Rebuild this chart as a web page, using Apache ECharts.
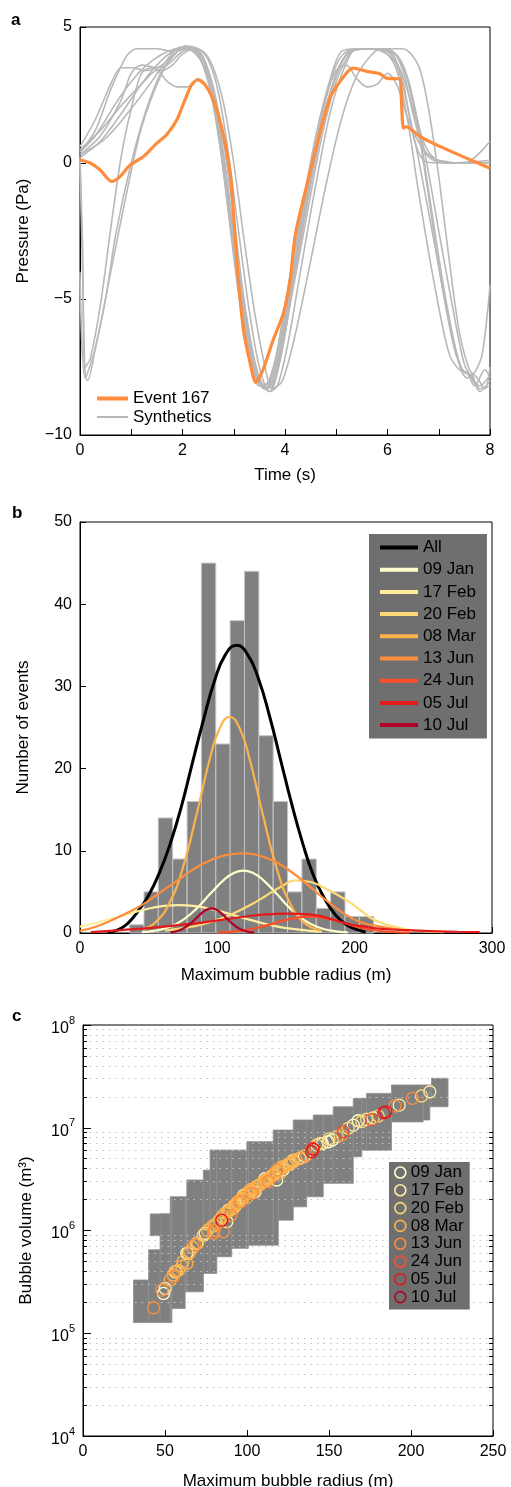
<!DOCTYPE html>
<html>
<head>
<meta charset="utf-8">
<script src="https://cdn.jsdelivr.net/npm/echarts/dist/echarts.min.js"></script>
<style>
html, body { margin: 0; padding: 0; background: #fff; }
#chart { width: 511px; height: 1487px; }
</style>
</head>
<body>
<div id="chart"></div>
<script>
(function() {
  var FONT = '"Liberation Sans", Arial, Helvetica, sans-serif';

  // ---- panel a: pressure waveforms (time s, pressure Pa) ----
  var event167 = [[0,0.12],[0.2,0],[0.39,-0.25],[0.62,-0.68],[0.78,-0.5],[0.98,-0.07],[1.24,0.24],[1.5,0.73],
    [1.69,1.04],[1.89,1.59],[2.05,2.33],[2.18,2.88],[2.3,3.06],[2.44,2.88],[2.6,2.33],[2.76,1.34],[2.93,-0.37],
    [3.02,-2.5],[3.09,-4.3],[3.19,-6.14],[3.32,-7.36],[3.43,-8.07],[3.57,-7.61],[3.77,-6.5],[3.97,-5.52],[4.1,-4.3],
    [4.2,-2.65],[4.42,-0.86],[4.68,1.1],[4.89,2.45],[5.2,3.31],[5.33,3.49],[5.59,3.37],[5.85,3.28],[5.98,3.12],
    [6.24,3.09],[6.27,2.33],[6.31,1.28],[6.36,1.34],[6.63,0.98],[7.02,0.61],[7.54,0.18],[8.0,-0.19]];

  var synthetics = [
    [[0,0.2],[0.05,-4.0],[0.1,-7.8],[0.15,-8.0],[0.3,-6.8],[0.5,-5.0],[0.7,-2.6],[1.0,0.0],[1.3,2.0],[1.6,3.4],[1.9,4.1],[2.05,4.3],[2.3,4.0],[2.5,3.0],[2.7,1.1],[2.9,-1.9],[3.1,-4.9],[3.3,-7.2],[3.5,-8.1],[3.7,-8.4],[3.9,-7.3],[4.1,-5.2],[4.4,-2.2],[4.7,0.8],[5.0,3.0],[5.3,4.1],[5.5,4.2],[5.9,4.2],[6.2,3.9],[6.4,3.0],[6.6,1.2],[6.8,-1.2],[7.0,-3.8],[7.3,-6.8],[7.5,-7.7],[7.65,-7.8],[7.8,-8.4],[8.0,-8.0]],
    [[0,0.1],[0.05,-3.0],[0.1,-7.5],[0.2,-7.2],[0.4,-5.2],[0.6,-2.4],[0.8,0.2],[1.0,2.0],[1.2,3.3],[1.4,3.5],[1.6,3.4],[1.8,3.6],[2.0,4.0],[2.25,4.2],[2.45,3.7],[2.65,2.3],[2.85,-0.4],[3.05,-3.5],[3.25,-6.3],[3.45,-7.9],[3.6,-8.3],[3.8,-7.8],[4.0,-5.9],[4.3,-2.8],[4.6,0.3],[4.9,2.7],[5.2,4.0],[5.4,4.2],[5.8,4.2],[6.1,4.1],[6.3,3.4],[6.5,1.8],[6.7,0.5],[6.9,0.1],[7.2,0.0],[8.0,0.1]],
    [[0,-4.0],[0.1,-7.9],[0.3,-6.8],[0.6,-4.0],[0.9,-1.2],[1.2,1.3],[1.6,3.3],[1.9,4.1],[2.1,4.3],[2.4,4.1],[2.6,3.5],[2.8,2.2],[3.0,0.0],[3.2,-2.8],[3.4,-5.4],[3.6,-7.4],[3.75,-8.3],[3.95,-8.0],[4.2,-6.3],[4.5,-3.6],[4.8,-0.8],[5.1,1.6],[5.4,3.2],[5.7,4.0],[5.9,4.2],[6.3,4.2],[6.6,3.6],[6.8,2.0],[7.0,-0.5],[7.2,-3.5],[7.4,-6.2],[7.6,-7.6],[7.75,-7.9],[7.9,-8.3],[8.0,-7.5]],
    [[0,0.4],[0.3,1.2],[0.6,2.7],[0.9,3.9],[1.1,4.2],[1.5,4.2],[1.8,4.1],[2.0,4.2],[2.3,4.1],[2.5,3.2],[2.7,1.2],[2.9,-1.6],[3.1,-4.6],[3.3,-7.0],[3.45,-8.0],[3.6,-8.2],[3.8,-7.3],[4.0,-5.2],[4.3,-2.0],[4.6,1.0],[4.9,3.2],[5.1,4.1],[5.4,4.2],[5.8,4.2],[6.1,4.0],[6.3,3.0],[6.5,1.0],[6.7,0.1],[7.0,0.0],[8.0,0.0]],
    [[0,0.3],[0.4,1.0],[0.8,2.3],[1.0,3.3],[1.2,3.6],[1.5,3.5],[1.7,3.6],[2.0,4.1],[2.2,4.2],[2.4,3.9],[2.6,2.6],[2.8,0.2],[3.0,-2.8],[3.2,-5.6],[3.4,-7.6],[3.55,-8.2],[3.7,-8.0],[3.9,-6.6],[4.1,-4.3],[4.4,-1.2],[4.7,1.6],[5.0,3.6],[5.2,4.1],[5.5,4.2],[5.9,4.1],[6.2,3.6],[6.4,2.6],[6.7,0.6],[7.0,-2.5],[7.3,-5.6],[7.5,-7.4],[7.65,-7.9],[7.8,-8.2],[8.0,-7.8]],
    [[0,0.3],[0.5,0.9],[1.0,2.0],[1.4,3.0],[1.7,3.8],[1.95,4.25],[2.2,4.1],[2.4,3.6],[2.6,2.4],[2.8,0.3],[3.0,-2.6],[3.2,-5.4],[3.4,-7.5],[3.6,-8.3],[3.75,-8.2],[3.95,-6.8],[4.2,-4.0],[4.5,-0.8],[4.8,2.0],[5.1,3.7],[5.3,4.1],[5.7,4.2],[6.0,4.0],[6.2,3.3],[6.4,1.5],[6.6,-1.0],[6.9,-4.3],[7.2,-7.0],[7.4,-7.6],[7.55,-7.7],[7.7,-8.2],[7.9,-7.6],[8.0,-7.9]],
    [[0,0.5],[0.4,1.2],[0.8,2.1],[1.2,2.9],[1.5,3.4],[1.7,3.0],[1.9,2.8],[2.1,2.8],[2.3,3.1],[2.45,2.9],[2.6,2.2],[2.8,0.2],[3.0,-2.6],[3.2,-5.2],[3.4,-7.3],[3.6,-8.3],[3.75,-8.1],[3.95,-6.5],[4.2,-3.6],[4.5,-0.4],[4.8,2.4],[5.0,3.4],[5.2,3.6],[5.4,3.1],[5.6,2.8],[5.8,2.9],[6.0,3.3],[6.2,2.8],[6.4,1.6],[6.6,0.8],[6.8,0.3],[7.0,0.1],[7.5,0.0],[8.0,0.8]],
    [[0,0.6],[0.3,1.6],[0.6,2.9],[0.8,3.5],[1.0,3.5],[1.3,3.4],[1.6,3.6],[1.9,4.1],[2.1,4.2],[2.3,4.0],[2.5,3.0],[2.7,1.0],[2.9,-1.8],[3.1,-4.8],[3.3,-7.2],[3.5,-8.2],[3.7,-8.1],[3.9,-6.8],[4.1,-4.6],[4.4,-1.5],[4.7,1.3],[5.0,3.3],[5.2,4.0],[5.4,4.2],[5.7,4.2],[6.0,4.1],[6.2,3.5],[6.4,2.0],[6.6,0.2],[6.9,-2.8],[7.2,-5.8],[7.45,-7.6],[7.6,-7.8],[7.8,-8.3],[8.0,-8.2]],
    [[0,0.2],[0.4,0.8],[0.8,1.8],[1.2,2.9],[1.5,3.6],[1.8,4.1],[2.0,4.25],[2.3,4.2],[2.5,3.8],[2.7,2.6],[2.9,0.3],[3.1,-2.6],[3.3,-5.4],[3.5,-7.5],[3.7,-8.4],[3.85,-8.2],[4.05,-6.7],[4.3,-4.0],[4.6,-0.8],[4.9,2.0],[5.2,3.7],[5.4,4.2],[5.8,4.2],[6.1,4.1],[6.3,3.6],[6.5,2.2],[6.7,0.8],[6.9,0.2],[7.2,0.0],[8.0,0.0]],
    [[0,0.4],[0.3,1.0],[0.7,2.2],[1.0,3.0],[1.3,3.6],[1.6,4.0],[1.9,4.2],[2.2,4.2],[2.4,3.8],[2.6,2.8],[2.8,0.8],[3.0,-2.0],[3.2,-5.0],[3.4,-7.2],[3.55,-8.1],[3.7,-8.4],[3.9,-7.2],[4.1,-5.0],[4.4,-1.8],[4.7,1.1],[5.0,3.2],[5.25,4.1],[5.5,4.2],[5.9,4.2],[6.2,3.9],[6.4,3.1],[6.6,1.4],[6.8,-1.0],[7.1,-4.6],[7.4,-7.4],[7.55,-7.9],[7.7,-7.7],[7.85,-7.0],[8.0,-4.5]]
  ];

  // ---- panel b: histogram of max bubble radius + gaussian fits ----
  var binWidth = 10.45;
  var binStart = [36.2, 46.6, 57.0, 67.5, 78.0, 88.4, 98.9, 109.3, 119.8, 130.2, 140.7, 151.1, 161.6, 172.0, 182.5, 192.9, 203.4];
  var binCount = [1, 5, 14, 9, 16, 45, 23, 38, 44, 24, 16, 5, 9, 3, 5, 2, 2];

  var fitAll = [[20,0.1],[28,0.4],[35,1.2],[42,2.6],[50,4.6],[58,7.4],[66,11.0],[74,15.5],[82,20.8],[90,26.0],[98,30.7],
    [106,33.9],[114,35.0],[122,33.9],[130,30.9],[138,26.4],[146,21.1],[154,15.8],[162,11.0],[170,7.0],[178,4.2],[186,2.2],
    [194,1.0],[202,0.4],[208,0.1]];
  var fitJan09 = [[45,0.1],[55,0.29],[65,0.74],[75,1.6],[85,3.0],[95,4.8],[105,6.5],[112,7.3],[119,7.6],[126,7.3],[133,6.5],
    [143,4.8],[153,3.0],[163,1.6],[173,0.74],[183,0.29],[195,0.07]];
  var fitFeb17 = [[0,0.78],[12,1.23],[24,1.77],[36,2.36],[48,2.89],[60,3.26],[72,3.4],[84,3.26],[96,2.89],[108,2.36],
    [120,1.77],[132,1.23],[144,0.78],[156,0.47],[168,0.25],[176,0.16]];
  var fitFeb20 = [[62,0.3],[75,0.6],[88,1.0],[100,1.6],[112,2.4],[124,3.4],[136,4.6],[146,5.6],[157,6.4],[168,6.2],
    [180,5.3],[194,4.0],[204,2.8],[214,1.6],[228,0.8],[243,0.33],[265,0.1]];
  var fitMar08 = [[46,0.44],[55,1.3],[65,3.6],[75,8.0],[85,14.5],[95,21.5],[102,25.0],[109,26.3],[116,25.0],[123,21.5],
    [133,14.5],[143,8.0],[153,3.6],[163,1.3],[175,0.29]];
  var fitJun13 = [[0,0.25],[12,0.8],[23,1.55],[35,2.5],[47,3.6],[59,5.0],[71,6.4],[83,7.8],[95,8.85],[107,9.5],[119,9.7],
    [131,9.4],[143,8.6],[155,7.3],[167,5.7],[179,4.0],[191,2.5],[203,1.4],[215,0.9],[226,0.57],[240,0.3]];
  var fitJun24 = [[100,0.06],[115,0.23],[130,0.67],[145,1.36],[155,1.78],[167,2.0],[180,1.75],[192,1.21],[205,0.63],
    [220,0.21],[240,0.03]];
  var fitJul05 = [[8,0.1],[30,0.35],[50,0.6],[71,0.95],[90,1.3],[108,1.7],[125,2.1],[140,2.3],[150,2.36],[160,2.32],
    [170,2.2],[182,1.75],[194,1.15],[206,0.8],[218,0.53],[236,0.35],[255,0.22],[275,0.15],[291,0.1]];
  var fitJul10 = [[66,0.08],[72,0.3],[78,0.83],[84,1.7],[90,2.6],[95.6,3.0],[101,2.66],[107,1.75],[113,0.86],[119,0.31],[127,0.05]];

  // ---- panel c: bubble volume vs radius ----
  var volJan09 = [[88.7,1.58e6],[104.9,2.38e6],[116.1,3.46e6],[118.1,3.10e6],[167.8,1.17e7],[164.8,1.06e7],[149.6,7.31e6],
    [63.3,6.0e5],[49.1,2.44e5],[87.7,1.22e6],[135,5.3e6],[126,4.4e6],[98,2.2e6],[111,3.2e6],[122,3.9e6],[146,7.0e6],
    [152,7.6e6],[93,1.75e6]];
  var volFeb17 = [[211.5,2.24e7],[192.8,1.66e7],[74.5,9.4e5],[69.4,7.5e5],[56.2,3.96e5],[50.1,2.73e5],[176.9,1.25e7],[110,3.0e6]];
  var volFeb20 = [[206.4,2.04e7],[172.9,1.21e7],[161.7,9.87e6],[144.5,7.05e6],[142.5,6.79e6],[73.4,9.0e5],[64.3,5.98e5],
    [132.3,5.03e6],[155,8.2e6],[170,1.15e7],[180,1.3e7],[150,7.8e6],[128,4.8e6]];
  var volMar08 = [[121.2,4.17e6],[124.2,4.33e6],[128.2,4.67e6],[114,3.29e6],[110,2.98e6],[106,2.67e6],[99.9,2.3e6],
    [96.8,2.05e6],[93.8,1.84e6],[91.7,1.64e6],[86.6,1.47e6],[81.6,1.17e6],[78.5,1.09e6],[102,2.5e6],[108,2.8e6],
    [112,3.1e6],[116,3.5e6],[119,3.8e6],[95,1.95e6],[98,2.15e6],[103,2.42e6],[89,1.55e6],[84,1.3e6],[120,3.6e6],
    [126,4.5e6],[100,2.1e6],[92,1.75e6],[60.3,4.5e5],[58.2,4.1e5],[63.3,4.78e5],[53.2,3.29e5],
    [76,1.0e6],[80,1.12e6],[83,1.25e6],[85,1.38e6],[88,1.5e6],[90,1.6e6],[94,1.86e6],[97,2.0e6],[101,2.35e6],
    [104,2.55e6],[105,2.5e6],[107,2.75e6],[111,3.05e6],[113,3.2e6],[115,3.4e6],[117,3.6e6],[122,4.1e6],[125,4.4e6],
    [127,4.55e6],[130,4.9e6],[133,5.1e6],[70,7.6e5],[67,6.8e5],[65,6.2e5],[61,5.0e5],[57,4.0e5],[55,3.7e5]];
  var volJun13 = [[200.9,1.93e7],[190.2,1.63e7],[157.7,8.49e6],[136.4,5.42e6],[85.6,9.7e5],[79.5,9.4e5],[55.2,3.54e5],
    [48.1,2.63e5],[43,1.77e5],[118.1,3.87e6],[80,1.0e6],[90,1.4e6],[103,2.3e6],[113,3.0e6],[96,1.9e6],[68,7.2e5]];
  var volJun24 = [[158.7,9.15e6],[176,1.2e7],[140,6.3e6]];
  var volJul05 = [[184.7,1.43e7],[183.4,1.4e7],[140.4,6.17e6],[139.4,5.84e6],[84.6,1.26e6]];
  var volJul10 = [[95,1.95e6]];

  // uncertainty boxes: [r min, r max, V min, V max]
  var volBoxes = [[30.8,40,1.27e5,3.3e5],[40,47,1.27e5,6.5e5],[41,53.2,8.9e5,1.45e6],[47,53.2,1.27e5,1.45e6],
    [53.2,54.2,1.27e5,2.13e6],[54.2,62.3,1.74e5,2.13e6],[62.3,63.3,2.53e5,2.13e6],[63.3,73.4,2.53e5,3.1e6],
    [73.4,77.5,3.82e5,3.87e6],[77.5,81.6,3.82e5,6.07e6],[81.6,90.7,5.55e5,6.07e6],[90.7,99.9,6.7e5,6.07e6],
    [99.9,100.8,6.7e5,7.31e6],[100.8,116,7.2e5,7.31e6],[116,119.1,7.2e5,9.5e6],[119.1,128.2,1.26e6,9.5e6],
    [128.2,136.4,1.7e6,1.19e7],[136.4,140.4,2.13e6,1.19e7],[140.4,146.5,2.13e6,1.33e7],[146.5,152.6,2.88e6,1.33e7],
    [152.6,164.8,2.88e6,1.6e7],[164.8,170,5.22e6,1.93e7],[170,172.9,6.03e6,1.93e7],[172.9,188.1,6.03e6,2.16e7],
    [188.1,207.4,1.14e7,2.61e7],[207.4,211.5,1.19e7,2.61e7],[211.5,212.5,1.6e7,2.61e7],[212.5,222.6,1.6e7,3.03e7]];

  var dates = ['09 Jan', '17 Feb', '20 Feb', '08 Mar', '13 Jun', '24 Jun', '05 Jul', '10 Jul'];
  var dateColors = ['#ffffcc', '#ffeda0', '#fed976', '#feb24c', '#fd8d3c', '#fc4e2a', '#e31a1c', '#b10026'];
  var fits = [fitJan09, fitFeb17, fitFeb20, fitMar08, fitJun13, fitJun24, fitJul05, fitJul10];
  var vols = [volJan09, volFeb17, volFeb20, volMar08, volJun13, volJun24, volJul05, volJul10];

  var labelStyle = { color: '#000', fontSize: 16, fontFamily: FONT, showMinLabel: true, showMaxLabel: true };
  var nameStyle = { color: '#000', fontSize: 17, fontFamily: FONT };
  var axisLine = { show: true, onZero: false, lineStyle: { color: '#000', width: 1 } };
  var tickIn = { show: true, inside: true, length: 6, lineStyle: { color: '#000', width: 1 } };
  var legendText = { color: '#000', fontSize: 17, fontFamily: FONT, lineHeight: 17 };
  function minus(v) { return String(v).replace('-', '\u2212'); }

  var chart = echarts.init(document.getElementById('chart'), null, { renderer: 'canvas' });

  var series = [];
  // panel a
  synthetics.forEach(function(s) {
    series.push({ type: 'line', name: 'Synthetics', xAxisIndex: 0, yAxisIndex: 0, data: s, color: '#b8b8b8',
      symbol: 'none', smooth: 0.3, lineStyle: { color: '#b8b8b8', width: 1.6 }, z: 2 });
  });
  series.push({ type: 'line', name: 'Event 167', xAxisIndex: 0, yAxisIndex: 0, data: event167, color: '#fd8d3c',
    symbol: 'none', smooth: 0.25, lineStyle: { color: '#fd8d3c', width: 3.2 }, z: 3 });

  // panel b
  series.push({
    type: 'custom', name: 'hist', xAxisIndex: 1, yAxisIndex: 1, z: 1,
    data: binStart.map(function(b, i) { return [b, b + binWidth, binCount[i]]; }),
    encode: { x: [0, 1], y: 2 },
    renderItem: function(params, api) {
      var p0 = api.coord([api.value(0), api.value(2)]);
      var p1 = api.coord([api.value(1), 0]);
      return { type: 'rect', shape: { x: p0[0], y: p0[1], width: p1[0] - p0[0], height: p1[1] - p0[1] },
        style: { fill: '#808080', stroke: '#c4c4c4', lineWidth: 1 } };
    }
  });
  series.push({ type: 'line', name: 'All', xAxisIndex: 1, yAxisIndex: 1, data: fitAll, color: '#000',
    symbol: 'none', smooth: true, lineStyle: { color: '#000', width: 3 }, z: 3 });
  dates.forEach(function(d, i) {
    series.push({ type: 'line', name: d, xAxisIndex: 1, yAxisIndex: 1, data: fits[i], color: dateColors[i],
      symbol: 'none', smooth: true, lineStyle: { color: dateColors[i], width: 2.2 }, z: 4 });
  });

  // panel c
  var gridLines = [];
  var minorTicks = [];
  for (var k = 4; k < 8; k++) {
    for (var m = 2; m < 10; m++) {
      var v = m * Math.pow(10, k);
      gridLines.push({ yAxis: v });
      minorTicks.push([{ coord: [0, v] }, { coord: [2.4, v] }]);
      minorTicks.push([{ coord: [247.6, v] }, { coord: [250, v] }]);
    }
  }
  series.push({
    type: 'custom', name: 'boxes', xAxisIndex: 2, yAxisIndex: 2, z: 1,
    data: volBoxes, encode: { x: [0, 1], y: [2, 3] },
    renderItem: function(params, api) {
      var p0 = api.coord([api.value(0), api.value(3)]);
      var p1 = api.coord([api.value(1), api.value(2)]);
      return { type: 'rect', shape: { x: p0[0], y: p0[1], width: p1[0] - p0[0], height: p1[1] - p0[1] },
        style: { fill: '#808080', stroke: '#8e8e8e', lineWidth: 0.8 } };
    },
    markLine: { silent: true, symbol: ['none', 'none'], animation: false, z: 2, label: { show: false },
      lineStyle: { color: '#c4c4c4', type: [1.5, 5], width: 1 }, data: gridLines }
  });
  series.push({
    type: 'line', name: 'ticks', xAxisIndex: 2, yAxisIndex: 2, data: [], symbol: 'none',
    markLine: { silent: true, symbol: ['none', 'none'], animation: false, label: { show: false },
      lineStyle: { color: '#000', type: 'solid', width: 1 }, data: minorTicks }
  });
  dates.forEach(function(d, i) {
    series.push({ type: 'scatter', name: d + ' (c)', xAxisIndex: 2, yAxisIndex: 2, data: vols[i], z: i === 7 ? 3 : 4,
      symbol: 'circle', symbolSize: 12, color: dateColors[i],
      itemStyle: { color: 'rgba(0,0,0,0)', borderColor: dateColors[i], borderWidth: 1.3, opacity: 1 } });
  });

  chart.setOption({
    animation: false,
    textStyle: { fontFamily: FONT },
    graphic: [
      { type: 'text', left: 11, top: 12, style: { text: 'a', font: 'bold 17px ' + FONT, fill: '#000' } },
      { type: 'text', left: 12, top: 505, style: { text: 'b', font: 'bold 17px ' + FONT, fill: '#000' } },
      { type: 'text', left: 12, top: 1008, style: { text: 'c', font: 'bold 17px ' + FONT, fill: '#000' } }
    ],
    grid: [
      { left: 80, top: 27, width: 410, height: 408, show: true, borderColor: '#000', borderWidth: 1, backgroundColor: 'transparent', outerBoundsMode: 'none' },
      { left: 80, top: 522, width: 412, height: 411, show: true, borderColor: '#000', borderWidth: 1, backgroundColor: 'transparent', outerBoundsMode: 'none' },
      { left: 83, top: 1025, width: 410, height: 411, show: true, borderColor: '#000', borderWidth: 1, backgroundColor: 'transparent', outerBoundsMode: 'none' }
    ],
    xAxis: [
      { type: 'value', gridIndex: 0, min: 0, max: 8, interval: 1, name: 'Time (s)', nameLocation: 'middle', nameGap: 32,
        nameTextStyle: nameStyle, axisLine: axisLine, axisTick: tickIn, splitLine: { show: false },
        axisLabel: Object.assign({}, labelStyle, { formatter: function(v) { return v % 2 === 0 ? String(v) : ''; } }) },
      { type: 'value', gridIndex: 1, min: 0, max: 300, interval: 100, name: 'Maximum bubble radius (m)', nameLocation: 'middle',
        nameGap: 34, nameTextStyle: nameStyle, axisLine: axisLine, axisTick: tickIn, splitLine: { show: false }, axisLabel: labelStyle },
      { type: 'value', gridIndex: 2, min: 0, max: 250, interval: 50, name: 'Maximum bubble radius (m)', nameLocation: 'middle',
        nameGap: 37, nameTextStyle: nameStyle, axisLine: axisLine, axisTick: tickIn, splitLine: { show: false }, axisLabel: labelStyle }
    ],
    yAxis: [
      { type: 'value', gridIndex: 0, min: -10, max: 5, interval: 5, name: 'Pressure (Pa)', nameLocation: 'middle', nameGap: 48,
        nameTextStyle: nameStyle, axisLine: axisLine, axisTick: tickIn, splitLine: { show: false },
        axisLabel: Object.assign({}, labelStyle, { formatter: minus }) },
      { type: 'value', gridIndex: 1, min: 0, max: 50, interval: 10, name: 'Number of events', nameLocation: 'middle', nameGap: 48,
        nameTextStyle: nameStyle, axisLine: axisLine, axisTick: tickIn, splitLine: { show: false }, axisLabel: labelStyle },
      { type: 'log', logBase: 10, gridIndex: 2, min: 1e4, max: 1e8, name: 'Bubble volume (m\u00b3)', nameLocation: 'middle', nameGap: 48,
        nameTextStyle: nameStyle, axisLine: axisLine, axisTick: { show: true, inside: true, length: 8, lineStyle: { color: '#000' } },
        splitLine: { show: false },
        axisLabel: Object.assign({}, labelStyle, {
          formatter: function(v) { return '{b|10}{s|' + Math.round(Math.log10(v)) + '}'; },
          rich: { b: { fontSize: 16, fontFamily: FONT, color: '#000', padding: [7, 0, 0, 0] },
                  s: { fontSize: 11, fontFamily: FONT, color: '#000', padding: [0, 0, 9, 0] } }
        }) }
    ],
    legend: [
      { data: ['Event 167'], orient: 'vertical', left: 92, top: 385, icon: 'rect', itemWidth: 31, itemHeight: 4,
        textStyle: legendText, selectedMode: false },
      { data: ['Synthetics'], orient: 'vertical', left: 92, top: 403.5, icon: 'rect', itemWidth: 31, itemHeight: 2,
        textStyle: legendText, selectedMode: false },
      { data: ['All'].concat(dates), orient: 'vertical', left: 369, top: 534, padding: [5, 11, 5, 11],
        backgroundColor: '#6f6f6f', icon: 'rect', itemWidth: 38, itemHeight: 4, itemGap: 5.2,
        textStyle: legendText, selectedMode: false },
      { data: dates.map(function(d, i) {
          return { name: d + ' (c)', icon: 'circle',
            itemStyle: { color: 'rgba(0,0,0,0)', borderColor: dateColors[i], borderWidth: 1.6 } };
        }),
        formatter: function(n) { return n.replace(' (c)', ''); },
        orient: 'vertical', left: 389, top: 1162, padding: [2, 6, 4, 5], backgroundColor: '#6f6f6f',
        itemWidth: 11, itemHeight: 11, itemGap: 0.8,
        textStyle: legendText, selectedMode: false }
    ],
    series: series
  });
  window.addEventListener('resize', function() { chart.resize(); });
})();
</script>
</body>
</html>
